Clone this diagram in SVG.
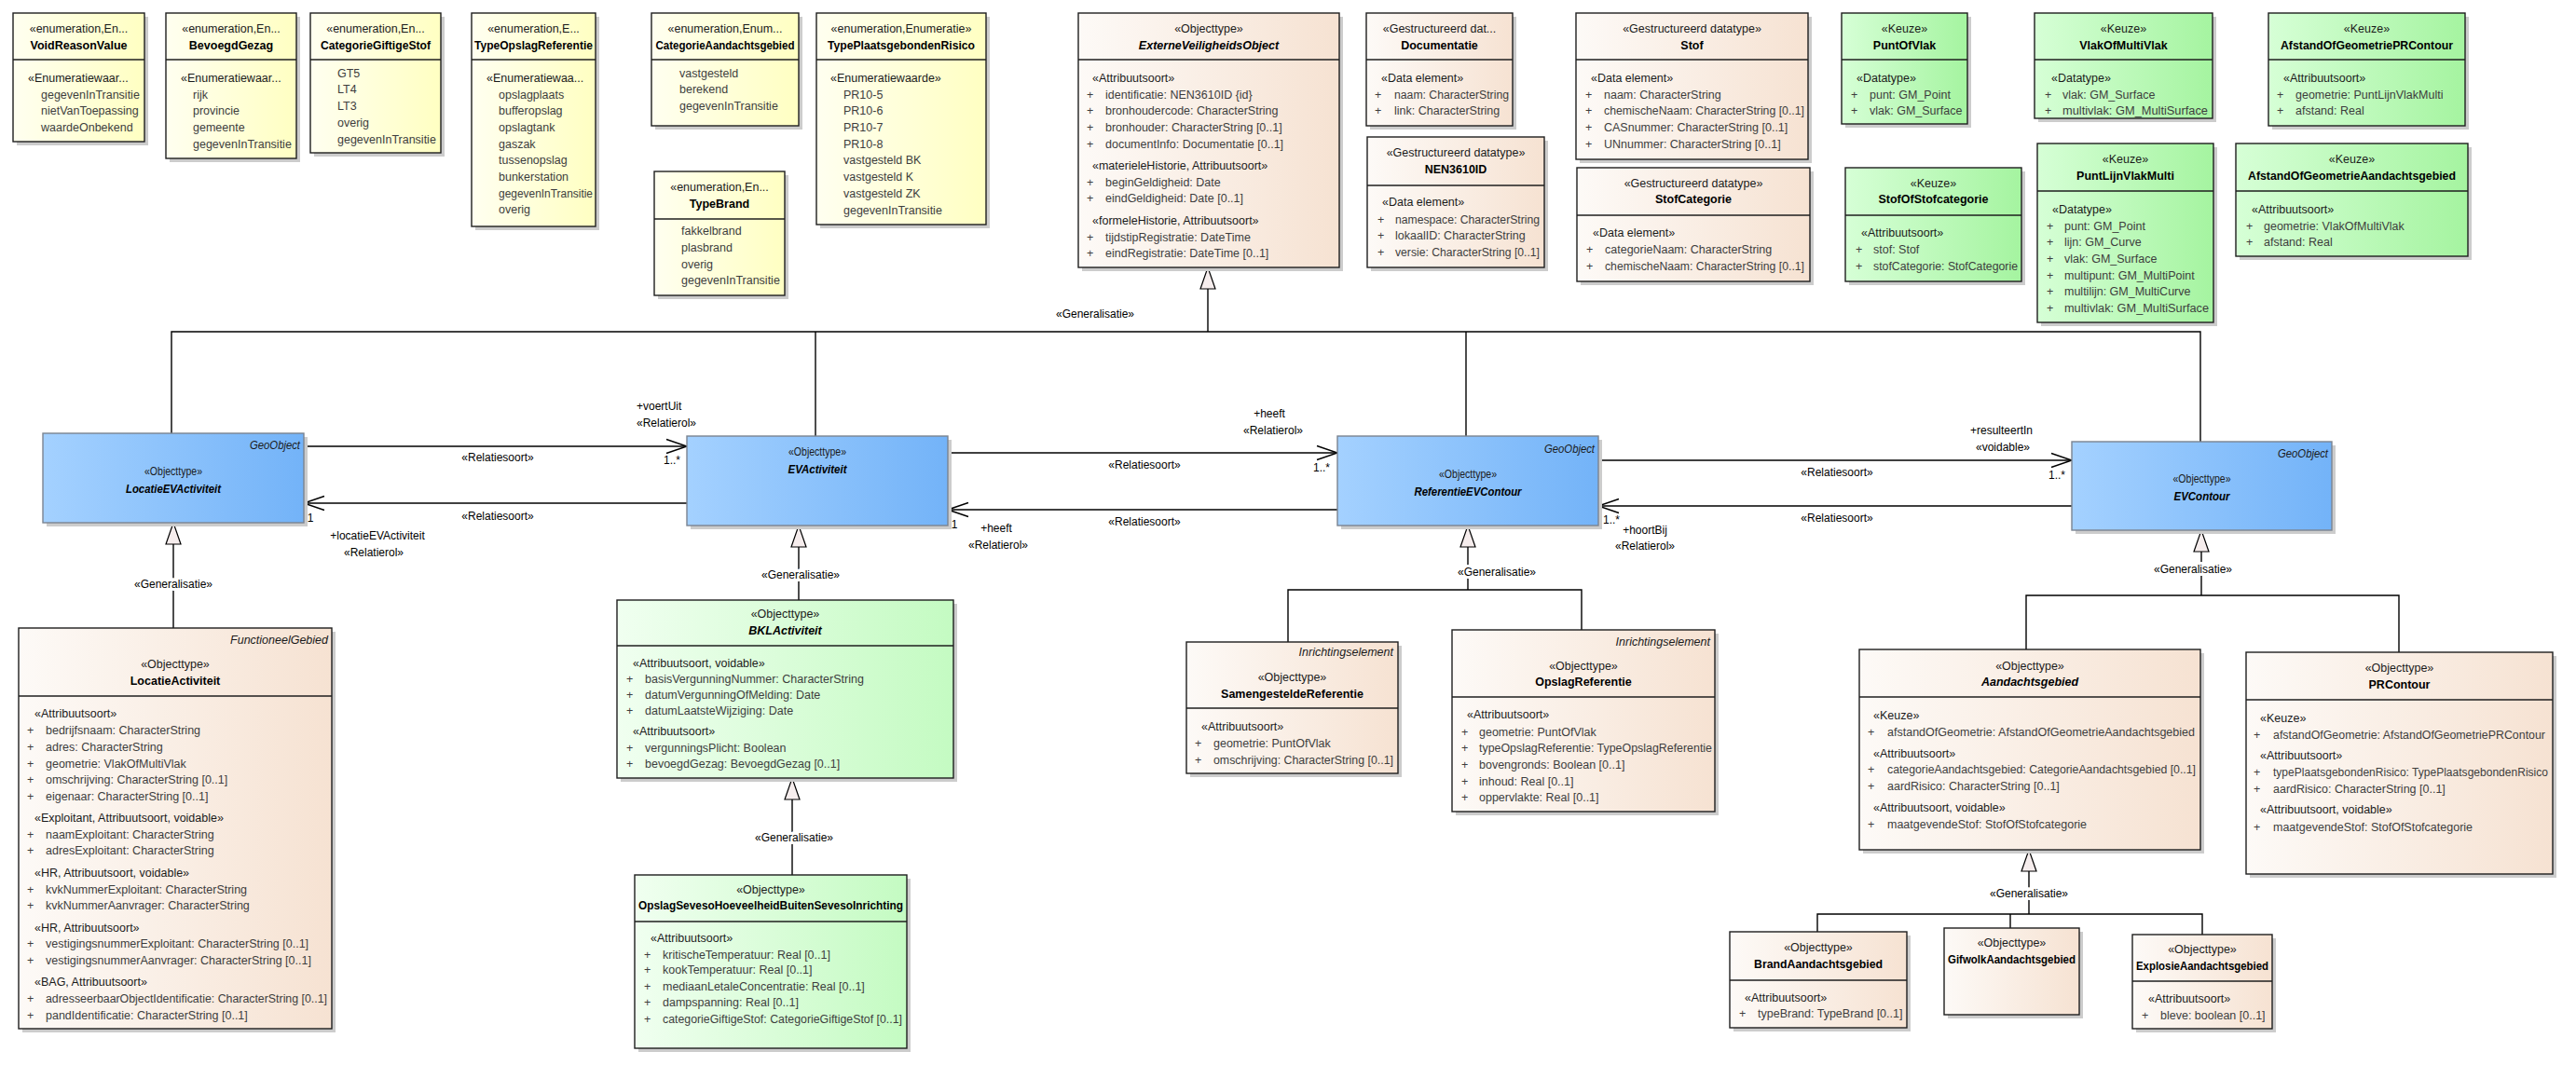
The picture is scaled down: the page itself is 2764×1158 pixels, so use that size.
<svg xmlns="http://www.w3.org/2000/svg" width="2764" height="1158" viewBox="0 0 2764 1158">
<defs>
<linearGradient id="gY" x1="0" y1="0" x2="1" y2="0"><stop offset="0" stop-color="#FFFFF0"/><stop offset="1" stop-color="#FFFFC2"/></linearGradient>
<linearGradient id="gB" x1="0" y1="0" x2="1" y2="0"><stop offset="0" stop-color="#FDFAF7"/><stop offset="1" stop-color="#F6E2D2"/></linearGradient>
<linearGradient id="gG" x1="0" y1="0" x2="1" y2="0"><stop offset="0" stop-color="#D6FFD6"/><stop offset="1" stop-color="#A5F4A0"/></linearGradient>
<linearGradient id="gL" x1="0" y1="0" x2="1" y2="0"><stop offset="0" stop-color="#F0FFF0"/><stop offset="1" stop-color="#C4FBC2"/></linearGradient>
<linearGradient id="gBl" x1="0" y1="0" x2="1" y2="0"><stop offset="0" stop-color="#A4D1FF"/><stop offset="1" stop-color="#73B3F8"/></linearGradient>
<marker id="open" markerUnits="userSpaceOnUse" markerWidth="26" markerHeight="18" refX="23" refY="9" orient="auto"><polyline points="1,1.5 23,9 1,16.5" fill="none" stroke="#000" stroke-width="1.4"/></marker>
<marker id="gen" markerUnits="userSpaceOnUse" markerWidth="26" markerHeight="20" refX="24" refY="10" orient="auto"><polygon points="1,2 24,10 1,18" fill="#F6EDED" stroke="#000" stroke-width="1.2"/></marker>
</defs>
<style>
.sh{fill:#cccccc}
.bx{stroke:#1e1e1e;stroke-width:1.4}
.bl{stroke:#7b8490;stroke-width:1.4;fill:url(#gBl)}
.en{fill:url(#gY)}
.ob{fill:url(#gB)}
.kz{fill:url(#gG)}
.lg{fill:url(#gL)}
.dv{stroke:#1e1e1e;stroke-width:1.4}
text{font-family:"Liberation Sans",Arial,sans-serif;font-size:12.5px;fill:#1a1a1a}
.c{text-anchor:middle}
.n{font-weight:bold;fill:#000;text-anchor:middle}
.ni{font-weight:bold;font-style:italic;fill:#000;text-anchor:middle}
.a{fill:#3d3d3d}
.r{font-style:italic;text-anchor:end}
.cn{fill:none;stroke:#000;stroke-width:1.4}
.lb{font-size:12px;fill:#000}
.lbm{font-size:12px;fill:#000;text-anchor:middle}
.gl{font-size:12px;fill:#000;text-anchor:middle;stroke:#fff;stroke-width:6;paint-order:stroke}
</style>
<rect x="0" y="0" width="2764" height="1158" fill="#ffffff"/>

<g id="connectors">
<!-- generalisation to ExterneVeiligheidsObject -->
<polyline class="cn" points="184,465 184,356 2361,356 2361,474"/>
<line class="cn" x1="875" y1="356" x2="875" y2="468"/>
<line class="cn" x1="1573" y1="356" x2="1573" y2="468"/>
<line class="cn" x1="1296" y1="356" x2="1296" y2="287" marker-end="url(#gen)"/>
<text class="lbm" x="1175" y="341">«Generalisatie»</text>
<!-- associations -->
<line class="cn" x1="326" y1="479" x2="737" y2="479" marker-end="url(#open)"/>
<line class="cn" x1="737" y1="540" x2="326" y2="540" marker-end="url(#open)"/>
<line class="cn" x1="1017" y1="486" x2="1435" y2="486" marker-end="url(#open)"/>
<line class="cn" x1="1435" y1="547" x2="1017" y2="547" marker-end="url(#open)"/>
<line class="cn" x1="1715" y1="494" x2="2223" y2="494" marker-end="url(#open)"/>
<line class="cn" x1="2223" y1="543" x2="1715" y2="543" marker-end="url(#open)"/>
<text class="lbm" x="534" y="495">«Relatiesoort»</text>
<text class="lbm" x="534" y="558">«Relatiesoort»</text>
<text class="lb" x="683" y="440">+voertUit</text>
<text class="lb" x="683" y="458">«Relatierol»</text>
<text class="lbm" x="721" y="498">1..*</text>
<text class="lbm" x="333" y="560">1</text>
<text class="lbm" x="405" y="579">+locatieEVActiviteit</text>
<text class="lbm" x="401" y="597">«Relatierol»</text>
<text class="lbm" x="1228" y="503">«Relatiesoort»</text>
<text class="lbm" x="1228" y="564">«Relatiesoort»</text>
<text class="lbm" x="1362" y="448">+heeft</text>
<text class="lbm" x="1366" y="466">«Relatierol»</text>
<text class="lbm" x="1418" y="506">1..*</text>
<text class="lbm" x="1024" y="567">1</text>
<text class="lbm" x="1069" y="571">+heeft</text>
<text class="lbm" x="1071" y="589">«Relatierol»</text>
<text class="lb" x="2114" y="466">+resulteertIn</text>
<text class="lbm" x="2149" y="484">«voidable»</text>
<text class="lbm" x="1971" y="511">«Relatiesoort»</text>
<text class="lbm" x="1971" y="560">«Relatiesoort»</text>
<text class="lbm" x="2207" y="514">1..*</text>
<text class="lbm" x="1729" y="562">1..*</text>
<text class="lbm" x="1765" y="573">+hoortBij</text>
<text class="lbm" x="1765" y="590">«Relatierol»</text>
<!-- generalisation LocatieActiviteit -> LocatieEVActiviteit -->
<line class="cn" x1="186" y1="674" x2="186" y2="561" marker-end="url(#gen)"/>
<text class="gl" x="186" y="631">«Generalisatie»</text>
<!-- BKLActiviteit -> EVActiviteit -->
<line class="cn" x1="857" y1="644" x2="857" y2="564" marker-end="url(#gen)"/>
<text class="gl" x="859" y="621">«Generalisatie»</text>
<!-- OpslagSeveso -> BKLActiviteit -->
<line class="cn" x1="850" y1="939" x2="850" y2="835" marker-end="url(#gen)"/>
<text class="gl" x="852" y="903">«Generalisatie»</text>
<!-- referenties -> ReferentieEVContour -->
<polyline class="cn" points="1382,689 1382,633 1697,633 1697,676"/>
<line class="cn" x1="1575" y1="633" x2="1575" y2="564" marker-end="url(#gen)"/>
<text class="gl" x="1606" y="618">«Generalisatie»</text>
<!-- Aandachtsgebied, PRContour -> EVContour -->
<polyline class="cn" points="2174,697 2174,639 2574,639 2574,700"/>
<line class="cn" x1="2362" y1="639" x2="2362" y2="569" marker-end="url(#gen)"/>
<text class="gl" x="2353" y="615">«Generalisatie»</text>
<!-- Brand, Gifwolk, Explosie -> Aandachtsgebied -->
<polyline class="cn" points="1950,1000 1950,981 2363,981 2363,1003"/>
<line class="cn" x1="2157" y1="981" x2="2157" y2="996"/>
<line class="cn" x1="2177" y1="981" x2="2177" y2="912" marker-end="url(#gen)"/>
<text class="gl" x="2177" y="963">«Generalisatie»</text>
</g>

<g id="VoidReasonValue">
<rect class="sh" x="18" y="18" width="141" height="138"/>
<rect class="bx en" x="14" y="14" width="141" height="138"/>
<line class="dv" x1="14" y1="64" x2="155" y2="64"/>
<text class="c" x="84.5" y="35">«enumeration,En...</text>
<text class="n" x="84.5" y="53">VoidReasonValue</text>
<text x="30" y="88">«Enumeratiewaar...</text>
<text class="a" x="44" y="106">gegevenInTransitie</text>
<text class="a" x="44" y="123">nietVanToepassing</text>
<text class="a" x="44" y="141">waardeOnbekend</text>
</g>

<g id="BevoegdGezag">
<rect class="sh" x="182" y="18" width="140" height="156"/>
<rect class="bx en" x="178" y="14" width="140" height="156"/>
<line class="dv" x1="178" y1="64" x2="318" y2="64"/>
<text class="c" x="248" y="35">«enumeration,En...</text>
<text class="n" x="248" y="53">BevoegdGezag</text>
<text x="194" y="88">«Enumeratiewaar...</text>
<text class="a" x="207" y="106">rijk</text>
<text class="a" x="207" y="123">provincie</text>
<text class="a" x="207" y="141">gemeente</text>
<text class="a" x="207" y="159">gegevenInTransitie</text>
</g>

<g id="CategorieGiftigeStof">
<rect class="sh" x="337" y="18" width="140" height="150"/>
<rect class="bx en" x="333" y="14" width="140" height="150"/>
<line class="dv" x1="333" y1="64" x2="473" y2="64"/>
<text class="c" x="403" y="35">«enumeration,En...</text>
<text class="n" x="403" y="53" textLength="118" lengthAdjust="spacingAndGlyphs">CategorieGiftigeStof</text>
<text class="a" x="362" y="83">GT5</text>
<text class="a" x="362" y="100">LT4</text>
<text class="a" x="362" y="118">LT3</text>
<text class="a" x="362" y="136">overig</text>
<text class="a" x="362" y="154">gegevenInTransitie</text>
</g>

<g id="TypeOpslagReferentie">
<rect class="sh" x="510" y="18" width="133" height="229"/>
<rect class="bx en" x="506" y="14" width="133" height="229"/>
<line class="dv" x1="506" y1="64" x2="639" y2="64"/>
<text class="c" x="572.5" y="35">«enumeration,E...</text>
<text class="n" x="572.5" y="53" textLength="127" lengthAdjust="spacingAndGlyphs">TypeOpslagReferentie</text>
<text x="522" y="88">«Enumeratiewaa...</text>
<text class="a" x="535" y="106">opslagplaats</text>
<text class="a" x="535" y="123">bufferopslag</text>
<text class="a" x="535" y="141">opslagtank</text>
<text class="a" x="535" y="159">gaszak</text>
<text class="a" x="535" y="176">tussenopslag</text>
<text class="a" x="535" y="194">bunkerstation</text>
<text class="a" x="535" y="212" textLength="101" lengthAdjust="spacingAndGlyphs">gegevenInTransitie</text>
<text class="a" x="535" y="229">overig</text>
</g>

<g id="CategorieAandachtsgebied">
<rect class="sh" x="703" y="18" width="158" height="121"/>
<rect class="bx en" x="699" y="14" width="158" height="121"/>
<line class="dv" x1="699" y1="64" x2="857" y2="64"/>
<text class="c" x="778" y="35">«enumeration,Enum...</text>
<text class="n" x="778" y="53" textLength="149" lengthAdjust="spacingAndGlyphs">CategorieAandachtsgebied</text>
<text class="a" x="729" y="83">vastgesteld</text>
<text class="a" x="729" y="100">berekend</text>
<text class="a" x="729" y="118">gegevenInTransitie</text>
</g>

<g id="TypePlaatsgebondenRisico">
<rect class="sh" x="880" y="18" width="182" height="227"/>
<rect class="bx en" x="876" y="14" width="182" height="227"/>
<line class="dv" x1="876" y1="64" x2="1058" y2="64"/>
<text class="c" x="967" y="35">«enumeration,Enumeratie»</text>
<text class="n" x="967" y="53" textLength="158" lengthAdjust="spacingAndGlyphs">TypePlaatsgebondenRisico</text>
<text x="891" y="88">«Enumeratiewaarde»</text>
<text class="a" x="905" y="106">PR10-5</text>
<text class="a" x="905" y="123">PR10-6</text>
<text class="a" x="905" y="141">PR10-7</text>
<text class="a" x="905" y="159">PR10-8</text>
<text class="a" x="905" y="176">vastgesteld BK</text>
<text class="a" x="905" y="194">vastgesteld K</text>
<text class="a" x="905" y="212">vastgesteld ZK</text>
<text class="a" x="905" y="230">gegevenInTransitie</text>
</g>

<g id="TypeBrand">
<rect class="sh" x="706" y="188" width="140" height="133"/>
<rect class="bx en" x="702" y="184" width="140" height="133"/>
<line class="dv" x1="702" y1="235" x2="842" y2="235"/>
<text class="c" x="772" y="205">«enumeration,En...</text>
<text class="n" x="772" y="223">TypeBrand</text>
<text class="a" x="731" y="252">fakkelbrand</text>
<text class="a" x="731" y="270">plasbrand</text>
<text class="a" x="731" y="288">overig</text>
<text class="a" x="731" y="305">gegevenInTransitie</text>
</g>

<g id="ExterneVeiligheidsObject">
<rect class="sh" x="1161" y="18" width="280" height="273"/>
<rect class="bx ob" x="1157" y="14" width="280" height="273"/>
<line class="dv" x1="1157" y1="64" x2="1437" y2="64"/>
<text class="c" x="1297" y="35">«Objecttype»</text>
<text class="ni" x="1297" y="53">ExterneVeiligheidsObject</text>
<text x="1172" y="88">«Attribuutsoort»</text>
<text class="a" x="1166" y="106">+</text><text class="a" x="1186" y="106">identificatie: NEN3610ID {id}</text>
<text class="a" x="1166" y="123">+</text><text class="a" x="1186" y="123">bronhoudercode: CharacterString</text>
<text class="a" x="1166" y="141">+</text><text class="a" x="1186" y="141">bronhouder: CharacterString [0..1]</text>
<text class="a" x="1166" y="159">+</text><text class="a" x="1186" y="159">documentInfo: Documentatie [0..1]</text>
<text x="1172" y="182">«materieleHistorie, Attribuutsoort»</text>
<text class="a" x="1166" y="200">+</text><text class="a" x="1186" y="200">beginGeldigheid: Date</text>
<text class="a" x="1166" y="217">+</text><text class="a" x="1186" y="217">eindGeldigheid: Date [0..1]</text>
<text x="1172" y="241">«formeleHistorie, Attribuutsoort»</text>
<text class="a" x="1166" y="259">+</text><text class="a" x="1186" y="259">tijdstipRegistratie: DateTime</text>
<text class="a" x="1166" y="276">+</text><text class="a" x="1186" y="276">eindRegistratie: DateTime [0..1]</text>
</g>

<g id="Documentatie">
<rect class="sh" x="1470" y="18" width="157" height="121"/>
<rect class="bx ob" x="1466" y="14" width="157" height="121"/>
<line class="dv" x1="1466" y1="64" x2="1623" y2="64"/>
<text class="c" x="1544.5" y="35">«Gestructureerd dat...</text>
<text class="n" x="1544.5" y="53">Documentatie</text>
<text x="1482" y="88">«Data element»</text>
<text class="a" x="1475" y="106">+</text><text class="a" x="1496" y="106" textLength="123" lengthAdjust="spacingAndGlyphs">naam: CharacterString</text>
<text class="a" x="1475" y="123">+</text><text class="a" x="1496" y="123">link: CharacterString</text>
</g>

<g id="NEN3610ID">
<rect class="sh" x="1471" y="151" width="190" height="140"/>
<rect class="bx ob" x="1467" y="147" width="190" height="140"/>
<line class="dv" x1="1467" y1="199" x2="1657" y2="199"/>
<text class="c" x="1562" y="168">«Gestructureerd datatype»</text>
<text class="n" x="1562" y="186">NEN3610ID</text>
<text x="1483" y="221">«Data element»</text>
<text class="a" x="1478" y="240">+</text><text class="a" x="1497" y="240" textLength="155" lengthAdjust="spacingAndGlyphs">namespace: CharacterString</text>
<text class="a" x="1478" y="257">+</text><text class="a" x="1497" y="257">lokaalID: CharacterString</text>
<text class="a" x="1478" y="275">+</text><text class="a" x="1497" y="275" textLength="155" lengthAdjust="spacingAndGlyphs">versie: CharacterString [0..1]</text>
</g>

<g id="Stof">
<rect class="sh" x="1695" y="18" width="249" height="157"/>
<rect class="bx ob" x="1691" y="14" width="249" height="157"/>
<line class="dv" x1="1691" y1="64" x2="1940" y2="64"/>
<text class="c" x="1815.5" y="35">«Gestructureerd datatype»</text>
<text class="n" x="1815.5" y="53">Stof</text>
<text x="1707" y="88">«Data element»</text>
<text class="a" x="1701" y="106">+</text><text class="a" x="1721" y="106">naam: CharacterString</text>
<text class="a" x="1701" y="123">+</text><text class="a" x="1721" y="123" textLength="215" lengthAdjust="spacingAndGlyphs">chemischeNaam: CharacterString [0..1]</text>
<text class="a" x="1701" y="141">+</text><text class="a" x="1721" y="141">CASnummer: CharacterString [0..1]</text>
<text class="a" x="1701" y="159">+</text><text class="a" x="1721" y="159">UNnummer: CharacterString [0..1]</text>
</g>

<g id="StofCategorie">
<rect class="sh" x="1696" y="184" width="250" height="122"/>
<rect class="bx ob" x="1692" y="180" width="250" height="122"/>
<line class="dv" x1="1692" y1="231" x2="1942" y2="231"/>
<text class="c" x="1817" y="201">«Gestructureerd datatype»</text>
<text class="n" x="1817" y="218">StofCategorie</text>
<text x="1709" y="254">«Data element»</text>
<text class="a" x="1702" y="272">+</text><text class="a" x="1722" y="272">categorieNaam: CharacterString</text>
<text class="a" x="1702" y="290">+</text><text class="a" x="1722" y="290" textLength="214" lengthAdjust="spacingAndGlyphs">chemischeNaam: CharacterString [0..1]</text>
</g>

<g id="PuntOfVlak">
<rect class="sh" x="1980" y="18" width="135" height="119"/>
<rect class="bx kz" x="1976" y="14" width="135" height="119"/>
<line class="dv" x1="1976" y1="64" x2="2111" y2="64"/>
<text class="c" x="2043.5" y="35">«Keuze»</text>
<text class="n" x="2043.5" y="53">PuntOfVlak</text>
<text x="1992" y="88">«Datatype»</text>
<text class="a" x="1986" y="106">+</text><text class="a" x="2006" y="106">punt: GM_Point</text>
<text class="a" x="1986" y="123">+</text><text class="a" x="2006" y="123">vlak: GM_Surface</text>
</g>

<g id="StofOfStofcategorie">
<rect class="sh" x="1984" y="184" width="189" height="122"/>
<rect class="bx kz" x="1980" y="180" width="189" height="122"/>
<line class="dv" x1="1980" y1="231" x2="2169" y2="231"/>
<text class="c" x="2074.5" y="201">«Keuze»</text>
<text class="n" x="2074.5" y="218">StofOfStofcategorie</text>
<text x="1997" y="254">«Attribuutsoort»</text>
<text class="a" x="1991" y="272">+</text><text class="a" x="2010" y="272">stof: Stof</text>
<text class="a" x="1991" y="290">+</text><text class="a" x="2010" y="290" textLength="155" lengthAdjust="spacingAndGlyphs">stofCategorie: StofCategorie</text>
</g>

<g id="VlakOfMultiVlak">
<rect class="sh" x="2187" y="18" width="191" height="113"/>
<rect class="bx kz" x="2183" y="14" width="191" height="113"/>
<line class="dv" x1="2183" y1="64" x2="2374" y2="64"/>
<text class="c" x="2278.5" y="35">«Keuze»</text>
<text class="n" x="2278.5" y="53">VlakOfMultiVlak</text>
<text x="2201" y="88">«Datatype»</text>
<text class="a" x="2194" y="106">+</text><text class="a" x="2213" y="106">vlak: GM_Surface</text>
<text class="a" x="2194" y="123">+</text><text class="a" x="2213" y="123" textLength="156" lengthAdjust="spacingAndGlyphs">multivlak: GM_MultiSurface</text>
</g>

<g id="AfstandOfGeometriePRContour">
<rect class="sh" x="2438" y="18" width="211" height="121"/>
<rect class="bx kz" x="2434" y="14" width="211" height="121"/>
<line class="dv" x1="2434" y1="64" x2="2645" y2="64"/>
<text class="c" x="2539.5" y="35">«Keuze»</text>
<text class="n" x="2539.5" y="53" textLength="185" lengthAdjust="spacingAndGlyphs">AfstandOfGeometriePRContour</text>
<text x="2450" y="88">«Attribuutsoort»</text>
<text class="a" x="2443" y="106">+</text><text class="a" x="2463" y="106">geometrie: PuntLijnVlakMulti</text>
<text class="a" x="2443" y="123">+</text><text class="a" x="2463" y="123">afstand: Real</text>
</g>

<g id="PuntLijnVlakMulti">
<rect class="sh" x="2190" y="158" width="189" height="192"/>
<rect class="bx kz" x="2186" y="154" width="189" height="192"/>
<line class="dv" x1="2186" y1="205" x2="2375" y2="205"/>
<text class="c" x="2280.5" y="175">«Keuze»</text>
<text class="n" x="2280.5" y="193">PuntLijnVlakMulti</text>
<text x="2202" y="229">«Datatype»</text>
<text class="a" x="2196" y="247">+</text><text class="a" x="2215" y="247">punt: GM_Point</text>
<text class="a" x="2196" y="264">+</text><text class="a" x="2215" y="264">lijn: GM_Curve</text>
<text class="a" x="2196" y="282">+</text><text class="a" x="2215" y="282">vlak: GM_Surface</text>
<text class="a" x="2196" y="300">+</text><text class="a" x="2215" y="300">multipunt: GM_MultiPoint</text>
<text class="a" x="2196" y="317">+</text><text class="a" x="2215" y="317">multilijn: GM_MultiCurve</text>
<text class="a" x="2196" y="335">+</text><text class="a" x="2215" y="335" textLength="155" lengthAdjust="spacingAndGlyphs">multivlak: GM_MultiSurface</text>
</g>

<g id="AfstandOfGeometrieAandachtsgebied">
<rect class="sh" x="2403" y="158" width="249" height="121"/>
<rect class="bx kz" x="2399" y="154" width="249" height="121"/>
<line class="dv" x1="2399" y1="205" x2="2648" y2="205"/>
<text class="c" x="2523.5" y="175">«Keuze»</text>
<text class="n" x="2523.5" y="193" textLength="223" lengthAdjust="spacingAndGlyphs">AfstandOfGeometrieAandachtsgebied</text>
<text x="2416" y="229">«Attribuutsoort»</text>
<text class="a" x="2410" y="247">+</text><text class="a" x="2429" y="247">geometrie: VlakOfMultiVlak</text>
<text class="a" x="2410" y="264">+</text><text class="a" x="2429" y="264">afstand: Real</text>
</g>

<g id="LocatieEVActiviteit">
<rect class="sh" x="50" y="469" width="280" height="96"/>
<rect class="bl" x="46" y="465" width="280" height="96"/>
<text class="r" x="322" y="482" textLength="54" lengthAdjust="spacingAndGlyphs">GeoObject</text>
<text class="c" x="186" y="510" textLength="62" lengthAdjust="spacingAndGlyphs">«Objecttype»</text>
<text class="ni" x="186" y="529" textLength="102" lengthAdjust="spacingAndGlyphs">LocatieEVActiviteit</text>
</g>

<g id="EVActiviteit">
<rect class="sh" x="741" y="472" width="280" height="96"/>
<rect class="bl" x="737" y="468" width="280" height="96"/>
<text class="c" x="877" y="489" textLength="62" lengthAdjust="spacingAndGlyphs">«Objecttype»</text>
<text class="ni" x="877" y="508" textLength="63" lengthAdjust="spacingAndGlyphs">EVActiviteit</text>
</g>

<g id="ReferentieEVContour">
<rect class="sh" x="1439" y="472" width="280" height="96"/>
<rect class="bl" x="1435" y="468" width="280" height="96"/>
<text class="r" x="1711" y="486" textLength="54" lengthAdjust="spacingAndGlyphs">GeoObject</text>
<text class="c" x="1575" y="513" textLength="62" lengthAdjust="spacingAndGlyphs">«Objecttype»</text>
<text class="ni" x="1575" y="532" textLength="115" lengthAdjust="spacingAndGlyphs">ReferentieEVContour</text>
</g>

<g id="EVContour">
<rect class="sh" x="2227" y="478" width="279" height="95"/>
<rect class="bl" x="2223" y="474" width="279" height="95"/>
<text class="r" x="2498" y="491" textLength="54" lengthAdjust="spacingAndGlyphs">GeoObject</text>
<text class="c" x="2362.5" y="518" textLength="62" lengthAdjust="spacingAndGlyphs">«Objecttype»</text>
<text class="ni" x="2362.5" y="537" textLength="60" lengthAdjust="spacingAndGlyphs">EVContour</text>
</g>

<g id="LocatieActiviteit">
<rect class="sh" x="24" y="678" width="336" height="430"/>
<rect class="bx ob" x="20" y="674" width="336" height="430"/>
<line class="dv" x1="20" y1="747" x2="356" y2="747"/>
<text class="r" x="352" y="691">FunctioneelGebied</text>
<text class="c" x="188" y="717">«Objecttype»</text>
<text class="n" x="188" y="735">LocatieActiviteit</text>
<text x="37" y="770">«Attribuutsoort»</text>
<text class="a" x="29" y="788">+</text><text class="a" x="49" y="788">bedrijfsnaam: CharacterString</text>
<text class="a" x="29" y="806">+</text><text class="a" x="49" y="806">adres: CharacterString</text>
<text class="a" x="29" y="824">+</text><text class="a" x="49" y="824">geometrie: VlakOfMultiVlak</text>
<text class="a" x="29" y="841">+</text><text class="a" x="49" y="841">omschrijving: CharacterString [0..1]</text>
<text class="a" x="29" y="859">+</text><text class="a" x="49" y="859">eigenaar: CharacterString [0..1]</text>
<text x="37" y="882">«Exploitant, Attribuutsoort, voidable»</text>
<text class="a" x="29" y="900">+</text><text class="a" x="49" y="900">naamExploitant: CharacterString</text>
<text class="a" x="29" y="917">+</text><text class="a" x="49" y="917">adresExploitant: CharacterString</text>
<text x="37" y="941">«HR, Attribuutsoort, voidable»</text>
<text class="a" x="29" y="959">+</text><text class="a" x="49" y="959">kvkNummerExploitant: CharacterString</text>
<text class="a" x="29" y="976">+</text><text class="a" x="49" y="976">kvkNummerAanvrager: CharacterString</text>
<text x="37" y="1000">«HR, Attribuutsoort»</text>
<text class="a" x="29" y="1017">+</text><text class="a" x="49" y="1017">vestigingsnummerExploitant: CharacterString [0..1]</text>
<text class="a" x="29" y="1035">+</text><text class="a" x="49" y="1035">vestigingsnummerAanvrager: CharacterString [0..1]</text>
<text x="37" y="1058">«BAG, Attribuutsoort»</text>
<text class="a" x="29" y="1076">+</text><text class="a" x="49" y="1076" textLength="302" lengthAdjust="spacingAndGlyphs">adresseerbaarObjectIdentificatie: CharacterString [0..1]</text>
<text class="a" x="29" y="1094">+</text><text class="a" x="49" y="1094">pandIdentificatie: CharacterString [0..1]</text>
</g>

<g id="BKLActiviteit">
<rect class="sh" x="666" y="648" width="361" height="191"/>
<rect class="bx lg" x="662" y="644" width="361" height="191"/>
<line class="dv" x1="662" y1="693" x2="1023" y2="693"/>
<text class="c" x="842.5" y="663">«Objecttype»</text>
<text class="ni" x="842.5" y="681">BKLActiviteit</text>
<text x="679" y="716">«Attribuutsoort, voidable»</text>
<text class="a" x="672" y="733">+</text><text class="a" x="692" y="733">basisVergunningNummer: CharacterString</text>
<text class="a" x="672" y="750">+</text><text class="a" x="692" y="750">datumVergunningOfMelding: Date</text>
<text class="a" x="672" y="767">+</text><text class="a" x="692" y="767">datumLaatsteWijziging: Date</text>
<text x="679" y="789">«Attribuutsoort»</text>
<text class="a" x="672" y="807">+</text><text class="a" x="692" y="807">vergunningsPlicht: Boolean</text>
<text class="a" x="672" y="824">+</text><text class="a" x="692" y="824">bevoegdGezag: BevoegdGezag [0..1]</text>
</g>

<g id="OpslagSevesoHoeveelheidBuitenSevesoInrichting">
<rect class="sh" x="685" y="943" width="292" height="186"/>
<rect class="bx lg" x="681" y="939" width="292" height="186"/>
<line class="dv" x1="681" y1="989" x2="973" y2="989"/>
<text class="c" x="827" y="959">«Objecttype»</text>
<text class="n" x="827" y="976" textLength="284" lengthAdjust="spacingAndGlyphs">OpslagSevesoHoeveelheidBuitenSevesoInrichting</text>
<text x="698" y="1011">«Attribuutsoort»</text>
<text class="a" x="691" y="1029">+</text><text class="a" x="711" y="1029">kritischeTemperatuur: Real [0..1]</text>
<text class="a" x="691" y="1045">+</text><text class="a" x="711" y="1045">kookTemperatuur: Real [0..1]</text>
<text class="a" x="691" y="1063">+</text><text class="a" x="711" y="1063">mediaanLetaleConcentratie: Real [0..1]</text>
<text class="a" x="691" y="1080">+</text><text class="a" x="711" y="1080">dampspanning: Real [0..1]</text>
<text class="a" x="691" y="1098">+</text><text class="a" x="711" y="1098" textLength="257" lengthAdjust="spacingAndGlyphs">categorieGiftigeStof: CategorieGiftigeStof [0..1]</text>
</g>

<g id="SamengesteldeReferentie">
<rect class="sh" x="1277" y="693" width="227" height="141"/>
<rect class="bx ob" x="1273" y="689" width="227" height="141"/>
<line class="dv" x1="1273" y1="760" x2="1500" y2="760"/>
<text class="r" x="1495" y="704">Inrichtingselement</text>
<text class="c" x="1386.5" y="731">«Objecttype»</text>
<text class="n" x="1386.5" y="749">SamengesteldeReferentie</text>
<text x="1289" y="784">«Attribuutsoort»</text>
<text class="a" x="1282" y="802">+</text><text class="a" x="1302" y="802">geometrie: PuntOfVlak</text>
<text class="a" x="1282" y="820">+</text><text class="a" x="1302" y="820" textLength="193" lengthAdjust="spacingAndGlyphs">omschrijving: CharacterString [0..1]</text>
</g>

<g id="OpslagReferentie">
<rect class="sh" x="1562" y="680" width="282" height="195"/>
<rect class="bx ob" x="1558" y="676" width="282" height="195"/>
<line class="dv" x1="1558" y1="748" x2="1840" y2="748"/>
<text class="r" x="1835" y="693">Inrichtingselement</text>
<text class="c" x="1699" y="719">«Objecttype»</text>
<text class="n" x="1699" y="736">OpslagReferentie</text>
<text x="1574" y="771">«Attribuutsoort»</text>
<text class="a" x="1568" y="790">+</text><text class="a" x="1587" y="790">geometrie: PuntOfVlak</text>
<text class="a" x="1568" y="807">+</text><text class="a" x="1587" y="807" textLength="250" lengthAdjust="spacingAndGlyphs">typeOpslagReferentie: TypeOpslagReferentie</text>
<text class="a" x="1568" y="825">+</text><text class="a" x="1587" y="825">bovengronds: Boolean [0..1]</text>
<text class="a" x="1568" y="843">+</text><text class="a" x="1587" y="843">inhoud: Real [0..1]</text>
<text class="a" x="1568" y="860">+</text><text class="a" x="1587" y="860">oppervlakte: Real [0..1]</text>
</g>

<g id="Aandachtsgebied">
<rect class="sh" x="1999" y="701" width="366" height="215"/>
<rect class="bx ob" x="1995" y="697" width="366" height="215"/>
<line class="dv" x1="1995" y1="748" x2="2361" y2="748"/>
<text class="c" x="2178" y="719">«Objecttype»</text>
<text class="ni" x="2178" y="736">Aandachtsgebied</text>
<text x="2010" y="772">«Keuze»</text>
<text class="a" x="2004" y="790">+</text><text class="a" x="2025" y="790" textLength="330" lengthAdjust="spacingAndGlyphs">afstandOfGeometrie: AfstandOfGeometrieAandachtsgebied</text>
<text x="2010" y="813">«Attribuutsoort»</text>
<text class="a" x="2004" y="830">+</text><text class="a" x="2025" y="830" textLength="331" lengthAdjust="spacingAndGlyphs">categorieAandachtsgebied: CategorieAandachtsgebied [0..1]</text>
<text class="a" x="2004" y="848">+</text><text class="a" x="2025" y="848">aardRisico: CharacterString [0..1]</text>
<text x="2010" y="871">«Attribuutsoort, voidable»</text>
<text class="a" x="2004" y="889">+</text><text class="a" x="2025" y="889">maatgevendeStof: StofOfStofcategorie</text>
</g>

<g id="PRContour">
<rect class="sh" x="2414" y="704" width="329" height="238"/>
<rect class="bx ob" x="2410" y="700" width="329" height="238"/>
<line class="dv" x1="2410" y1="751" x2="2739" y2="751"/>
<text class="c" x="2574.5" y="721">«Objecttype»</text>
<text class="n" x="2574.5" y="739">PRContour</text>
<text x="2425" y="775">«Keuze»</text>
<text class="a" x="2418" y="793">+</text><text class="a" x="2439" y="793" textLength="292" lengthAdjust="spacingAndGlyphs">afstandOfGeometrie: AfstandOfGeometriePRContour</text>
<text x="2425" y="815">«Attribuutsoort»</text>
<text class="a" x="2418" y="833">+</text><text class="a" x="2439" y="833" textLength="295" lengthAdjust="spacingAndGlyphs">typePlaatsgebondenRisico: TypePlaatsgebondenRisico</text>
<text class="a" x="2418" y="851">+</text><text class="a" x="2439" y="851">aardRisico: CharacterString [0..1]</text>
<text x="2425" y="873">«Attribuutsoort, voidable»</text>
<text class="a" x="2418" y="892">+</text><text class="a" x="2439" y="892">maatgevendeStof: StofOfStofcategorie</text>
</g>

<g id="BrandAandachtsgebied">
<rect class="sh" x="1860" y="1004" width="190" height="103"/>
<rect class="bx ob" x="1856" y="1000" width="190" height="103"/>
<line class="dv" x1="1856" y1="1052" x2="2046" y2="1052"/>
<text class="c" x="1951" y="1021">«Objecttype»</text>
<text class="n" x="1951" y="1039" textLength="138" lengthAdjust="spacingAndGlyphs">BrandAandachtsgebied</text>
<text x="1872" y="1075">«Attribuutsoort»</text>
<text class="a" x="1866" y="1092">+</text><text class="a" x="1886" y="1092">typeBrand: TypeBrand [0..1]</text>
</g>

<g id="GifwolkAandachtsgebied">
<rect class="sh" x="2090" y="1000" width="145" height="93"/>
<rect class="bx ob" x="2086" y="996" width="145" height="93"/>
<text class="c" x="2158.5" y="1016">«Objecttype»</text>
<text class="n" x="2158.5" y="1034" textLength="137" lengthAdjust="spacingAndGlyphs">GifwolkAandachtsgebied</text>
</g>

<g id="ExplosieAandachtsgebied">
<rect class="sh" x="2292" y="1007" width="150" height="101"/>
<rect class="bx ob" x="2288" y="1003" width="150" height="101"/>
<line class="dv" x1="2288" y1="1053" x2="2438" y2="1053"/>
<text class="c" x="2363" y="1023">«Objecttype»</text>
<text class="n" x="2363" y="1041" textLength="142" lengthAdjust="spacingAndGlyphs">ExplosieAandachtsgebied</text>
<text x="2305" y="1076">«Attribuutsoort»</text>
<text class="a" x="2298" y="1094">+</text><text class="a" x="2318" y="1094">bleve: boolean [0..1]</text>
</g>
</svg>
